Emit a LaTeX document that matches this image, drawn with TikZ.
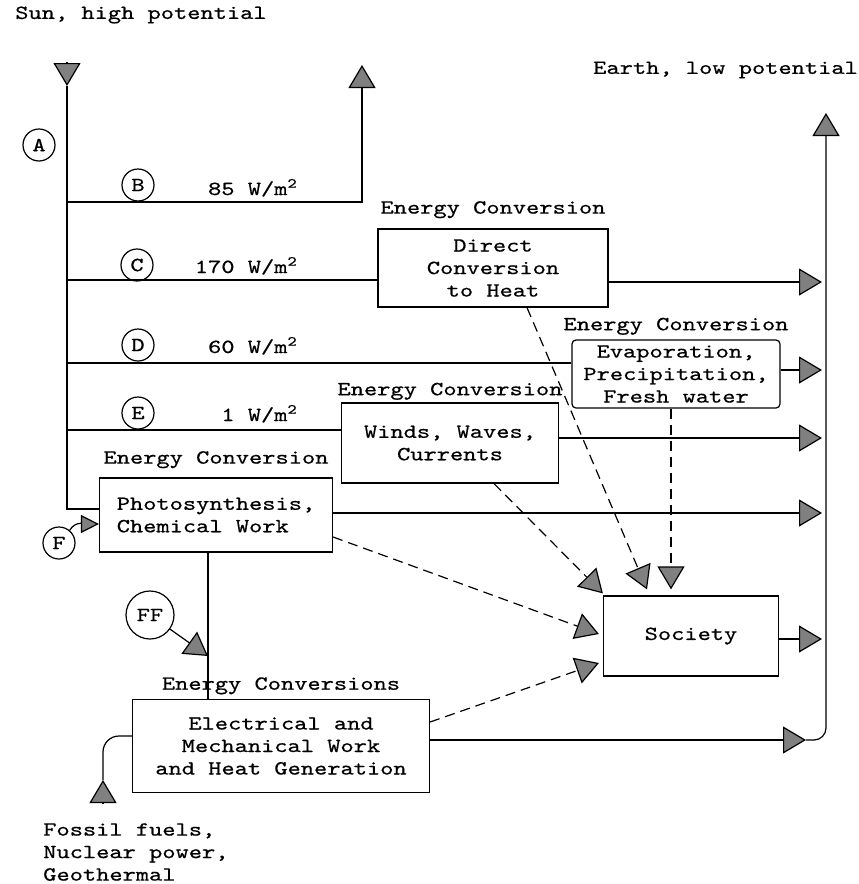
\documentclass[tikz,border=0pt]{standalone}
\usepackage{fontspec}
\setmonofont{lmmono10-regular.otf}[FakeStretch=1.26, FakeBold=0.6]
\usepackage{tikz}
\usetikzlibrary{arrows.meta, positioning}
\tikzstyle{every node} = [
    font=\ttfamily\fontsize{10}{11.25}\selectfont
]
\tikzstyle{process} = [
    rectangle,
    align=center,
    inner sep=2pt,
    draw=black
]
\tikzstyle{heading} = [inner sep=2pt]
\tikzstyle{tag} = [
    circle,
    inner sep=0pt,
    minimum size=16pt,
    draw=black
]
\tikzstyle{flow} = [-{Triangle[length=11.5pt,width=13.5pt,fill=black!50]}]
\tikzstyle{feed} = [flow, dash pattern=on 5pt off 3pt]

\begin{document}
\begin{tikzpicture}[x=0.5pt, y=-0.5pt, line width=0.6pt]

\useasboundingbox (0,0) rectangle (858,884);

\node (sunlbl) [anchor=west] at (8,15) {Sun, high potential};

\node (earthlbl) [anchor=west] at (586,70) {Earth, low potential};

\node (direct) [process, minimum width=115pt, minimum height=39pt] at (493,268)
{Direct\\Conversion\\to Heat};
\node (directhd) [heading, above=2.8pt of direct] {Energy Conversion};

\node (evap) [process, rounded corners=2pt, inner sep=1pt, minimum width=104pt, minimum height=34pt] at (676,374)
{Evaporation,\\Precipitation,\\Fresh water};
\node (evaphd) [heading, above=0pt of evap] {Energy Conversion};

\node (winds) [process, minimum width=108.5pt, minimum height=40pt] at (450,443)
{Winds, Waves,\\Currents};
\node (windshd) [heading, above=-1pt of winds] {Energy Conversion};

\node (photo) [process, align=left, minimum width=116.5pt, minimum height=37pt] at (216,515)
{Photosynthesis,\\Chemical Work};
\node (photohd) [heading, above=2.3pt of photo] {Energy Conversion};

\node (elec) [process, minimum width=148.5pt, minimum height=46.5pt] at (281,746)
{Electrical and\\Mechanical Work\\and Heat Generation};
\node (elechd) [heading, above=0pt of elec] {Energy Conversions};

\node (society) [process, minimum width=87.5pt, minimum height=40pt] at (691,636) {Society};

\node (fossil) [anchor=north west, align=left] at (36,816)
{Fossil fuels,\\Nuclear power,\\Geothermal};

\node (tagA) [tag] at (39,145) {A};
\node (tagB) [tag] at (138,185) {B};
\node (tagC) [tag] at (137,265) {C};
\node (tagD) [tag] at (138,345) {D};
\node (tagE) [tag] at (138,413) {E};
\node (tagF) [tag] at (59,543) {F};
\node (tagFF) [tag, minimum size=24pt] at (150,615) {FF};

\node (valB) [anchor=base east] at (305,195) {85 W/m\textsuperscript{2}};
\node (valC) [anchor=base east] at (305,273) {170 W/m\textsuperscript{2}};
\node (valD) [anchor=base east] at (305,353) {60 W/m\textsuperscript{2}};
\node (valE) [anchor=base east] at (305,421) {1 W/m\textsuperscript{2}};

\coordinate (sun) at (67,62);
\coordinate (suntip) at (67,86);
\coordinate (bB) at (67,202);
\coordinate (bC) at (67,280);
\coordinate (bD) at (67,363);
\coordinate (bE) at (67,430);
\coordinate (space) at (362,65);
\coordinate (earth) at (826,113);
\coordinate (outC) at (822,282);
\coordinate (outD) at (822,370);
\coordinate (outE) at (822,438);
\coordinate (outP) at (822,513);
\coordinate (outS) at (822,639);
\coordinate (outL) at (806,740);
\coordinate (fftip) at (208,656);
\coordinate (fossilfoot) at (103,803);
\coordinate (fossiltip) at (103,780);

\draw [flow] (sun) -- (suntip);
\draw (suntip) |- ([yshift=3pt]photo.west);
\draw [flow] (bB) -| (space);
\draw (bC) -- (bC -| direct.west);
\draw (bD) -- (bD -| evap.west);
\draw (bE) -- (bE -| winds.west);

\draw [flow] (direct.east |- outC) -- (outC);
\draw [flow] (evap.east |- outD) -- (outD);
\draw [flow] (winds.east |- outE) -- (outE);
\draw [flow] (photo.east |- outP) -- (outP);
\draw [flow] (society.east |- outS) -- (outS);
\draw [flow] (elec.east |- outL) -- (outL);
\draw [flow, rounded corners=6pt] (outL) -| (earth);

\draw [flow, -{Triangle[length=9pt,width=9pt,fill=black!50]}] (tagF.50) to[out=60, in=180] ([yshift=-4.5pt]photo.west);
\draw [flow] (tagFF) -- (fftip);
\draw (photo.south -| fftip) -- (elec.north -| fftip);

\draw [flow] (fossilfoot) -- (fossiltip);
\draw [rounded corners=8pt] (fossiltip) |- ([yshift=5pt]elec.west);

\draw [feed] ([xshift=17pt]direct.south) -- ([xshift=-22pt,yshift=3pt]society.north);
\draw [feed] ([xshift=-2.5pt]evap.south) -- ([xshift=-10pt,yshift=3pt]society.north);
\draw [feed] ([xshift=22pt]winds.south) -- ([yshift=1pt]society.north west);
\draw [feed] ([yshift=-11pt]photo.east) -- ([xshift=-2pt,yshift=1pt]society.west);
\draw [feed] ([yshift=12pt]elec.east) -- ([xshift=-2pt,yshift=-13.5pt]society.west);

\end{tikzpicture}
\end{document}
